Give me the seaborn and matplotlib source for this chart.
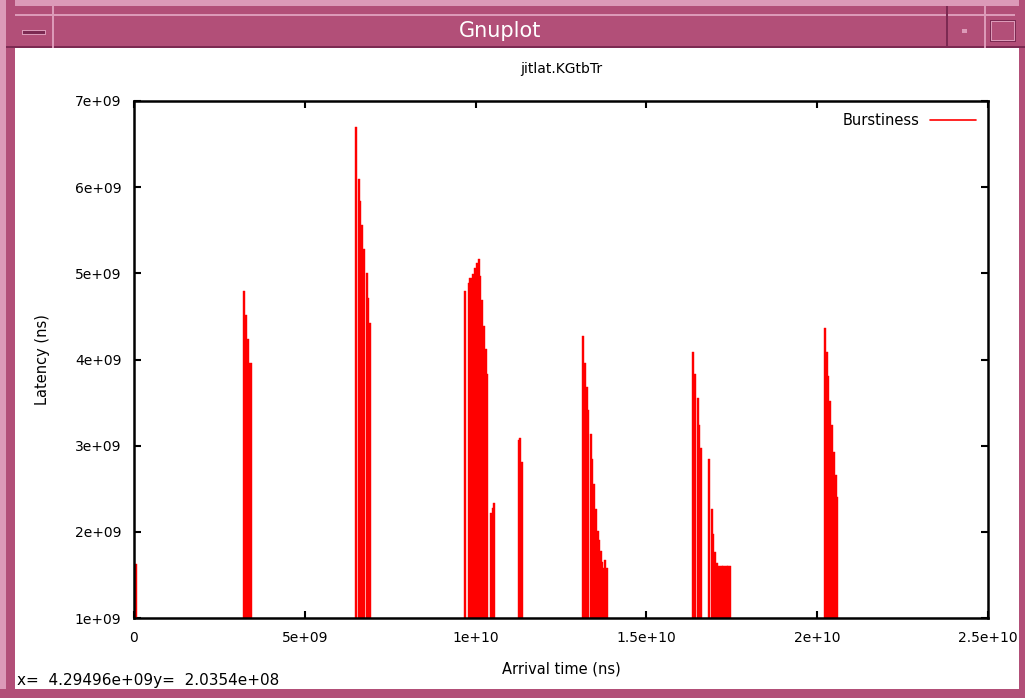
import matplotlib
matplotlib.use("Agg")
import matplotlib.pyplot as plt
from matplotlib.patches import Rectangle
from matplotlib.lines import Line2D
import seaborn as sns

# arrival time (ns) and latency (ns) of each impulse
arrival_ns = [
    0.05e9,
    3.22e9, 3.27e9, 3.33e9, 3.41e9,
    6.49e9, 6.58e9, 6.62e9, 6.67e9, 6.73e9, 6.81e9, 6.86e9, 6.90e9,
    9.69e9, 9.80e9, 9.85e9, 9.91e9, 9.98e9, 10.04e9, 10.09e9, 10.13e9,
    10.20e9, 10.25e9, 10.29e9, 10.34e9, 10.45e9, 10.50e9, 10.54e9,
    11.26e9, 11.29e9, 11.35e9,
    13.15e9, 13.21e9, 13.26e9, 13.30e9, 13.37e9, 13.42e9, 13.47e9, 13.52e9,
    13.57e9, 13.62e9, 13.67e9, 13.71e9, 13.74e9, 13.80e9, 13.86e9,
    16.36e9, 16.42e9, 16.50e9, 16.55e9, 16.59e9, 16.82e9, 16.91e9, 16.96e9,
    17.02e9, 17.06e9, 17.10e9, 17.15e9, 17.20e9, 17.25e9, 17.30e9, 17.35e9,
    17.40e9, 17.45e9,
    20.23e9, 20.28e9, 20.33e9, 20.37e9, 20.44e9, 20.49e9, 20.54e9, 20.58e9,
]
latency_ns = [
    1.63e9,
    4.79e9, 4.52e9, 4.24e9, 3.96e9,
    6.70e9, 6.10e9, 5.84e9, 5.56e9, 5.28e9, 5.00e9, 4.71e9, 4.42e9,
    4.80e9, 4.89e9, 4.95e9, 4.99e9, 5.06e9, 5.12e9, 5.17e9, 4.97e9,
    4.69e9, 4.39e9, 4.12e9, 3.83e9, 2.22e9, 2.28e9, 2.34e9,
    3.07e9, 3.09e9, 2.81e9,
    4.27e9, 3.96e9, 3.68e9, 3.41e9, 3.13e9, 2.84e9, 2.55e9, 2.27e9,
    2.01e9, 1.91e9, 1.78e9, 1.65e9, 1.58e9, 1.67e9, 1.58e9,
    4.09e9, 3.83e9, 3.55e9, 3.24e9, 2.97e9, 2.84e9, 2.27e9, 1.97e9,
    1.77e9, 1.64e9, 1.60e9, 1.60e9, 1.60e9, 1.60e9, 1.60e9, 1.60e9,
    1.60e9, 1.60e9,
    4.36e9, 4.09e9, 3.81e9, 3.52e9, 3.24e9, 2.93e9, 2.66e9, 2.40e9,
]
x_ticks = [0, 5e9, 1e10, 1.5e10, 2e10, 2.5e10]
x_labels = ["0", "5e+09", "1e+10", "1.5e+10", "2e+10", "2.5e+10"]
y_ticks = [1e9, 2e9, 3e9, 4e9, 5e9, 6e9, 7e9]
y_labels = ["1e+09", "2e+09", "3e+09", "4e+09", "5e+09", "6e+09", "7e+09"]

sns.set_theme(style="ticks", rc={"text.color": "black", "axes.labelcolor": "black"})
plt.rcParams["font.family"] = ["DejaVu Sans"]

W, H = 1025, 698
fig = plt.figure(figsize=(W / 100, H / 100), dpi=100)
fig.patch.set_facecolor("white")


def px(x, y, w, h):
    # pixel box (top-left origin) -> figure fraction
    return (x / W, 1 - (y + h) / H, w / W, h / H)


def frame_rect(x, y, w, h, color, **kw):
    l, b, ww, hh = px(x, y, w, h)
    fig.add_artist(Rectangle((l, b), ww, hh, transform=fig.transFigure,
                             facecolor=color, edgecolor="none", zorder=5, **kw))


bar_pink = "#b24f78"
light_pink = "#dc9ab8"
dark_pink = "#7c2a52"

# window frame
frame_rect(0, 0, W, 6, light_pink)
frame_rect(0, 0, 15, H, bar_pink)
frame_rect(0, 0, 6, H, light_pink)
frame_rect(1019, 0, 6, H, bar_pink)
frame_rect(0, 689, W, 9, bar_pink)
frame_rect(6, 6, W, 42, bar_pink)
frame_rect(6, 46, W, 2, dark_pink)
frame_rect(15, 14, 1000, 1.5, light_pink)
# title bar buttons
frame_rect(52, 6, 2, 42, light_pink)
frame_rect(946, 6, 2, 42, dark_pink)
frame_rect(984, 6, 2, 42, light_pink)
frame_rect(22, 30, 24, 5, light_pink)
frame_rect(23, 31, 22, 3, dark_pink)
frame_rect(962, 29, 5, 4, light_pink)
frame_rect(990, 20, 26, 22, dark_pink)
frame_rect(991, 21, 24, 20, light_pink)
frame_rect(992, 22, 22, 18, bar_pink)
fig.text(500 / W, 1 - 31 / H, "Gnuplot", color="white", fontsize=15,
         ha="center", va="center", zorder=6)

ax = fig.add_axes([134 / W, 1 - 618 / H, 854 / W, 517 / H])
ax.bar(arrival_ns, latency_ns, width=0.06e9, color="red",
       edgecolor="red", linewidth=0.3)
ax.add_line(Line2D([], [], color="red", lw=1.2, label="Burstiness"))

ax.set_xlim(0, 2.5e10)
ax.set_ylim(1e9, 7e9)
ax.set_xticks(x_ticks, x_labels)
ax.set_yticks(y_ticks, y_labels)
ax.tick_params(direction="in", length=5, width=1.5, top=True, right=True,
               labelsize=10, colors="black", pad=9)
for s in ax.spines.values():
    s.set_linewidth(1.8)
    s.set_color("black")
ax.set_title("jitlat.KGtbTr", fontsize=10, pad=20, color="black")
ax.set_xlabel("Arrival time (ns)", fontsize=10.5, labelpad=12)
ax.set_ylabel("Latency (ns)", fontsize=10.5, labelpad=18)
ax.legend(loc="upper right", frameon=False, markerfirst=False, fontsize=10.5,
          handlelength=3.2, borderaxespad=0.4, handletextpad=0.7)

fig.text(17 / W, 1 - 680 / H, "x=  4.29496e+09y=  2.0354e+08", fontsize=11,
         ha="left", va="center", color="black")

fig.savefig("out.png", dpi=100)
